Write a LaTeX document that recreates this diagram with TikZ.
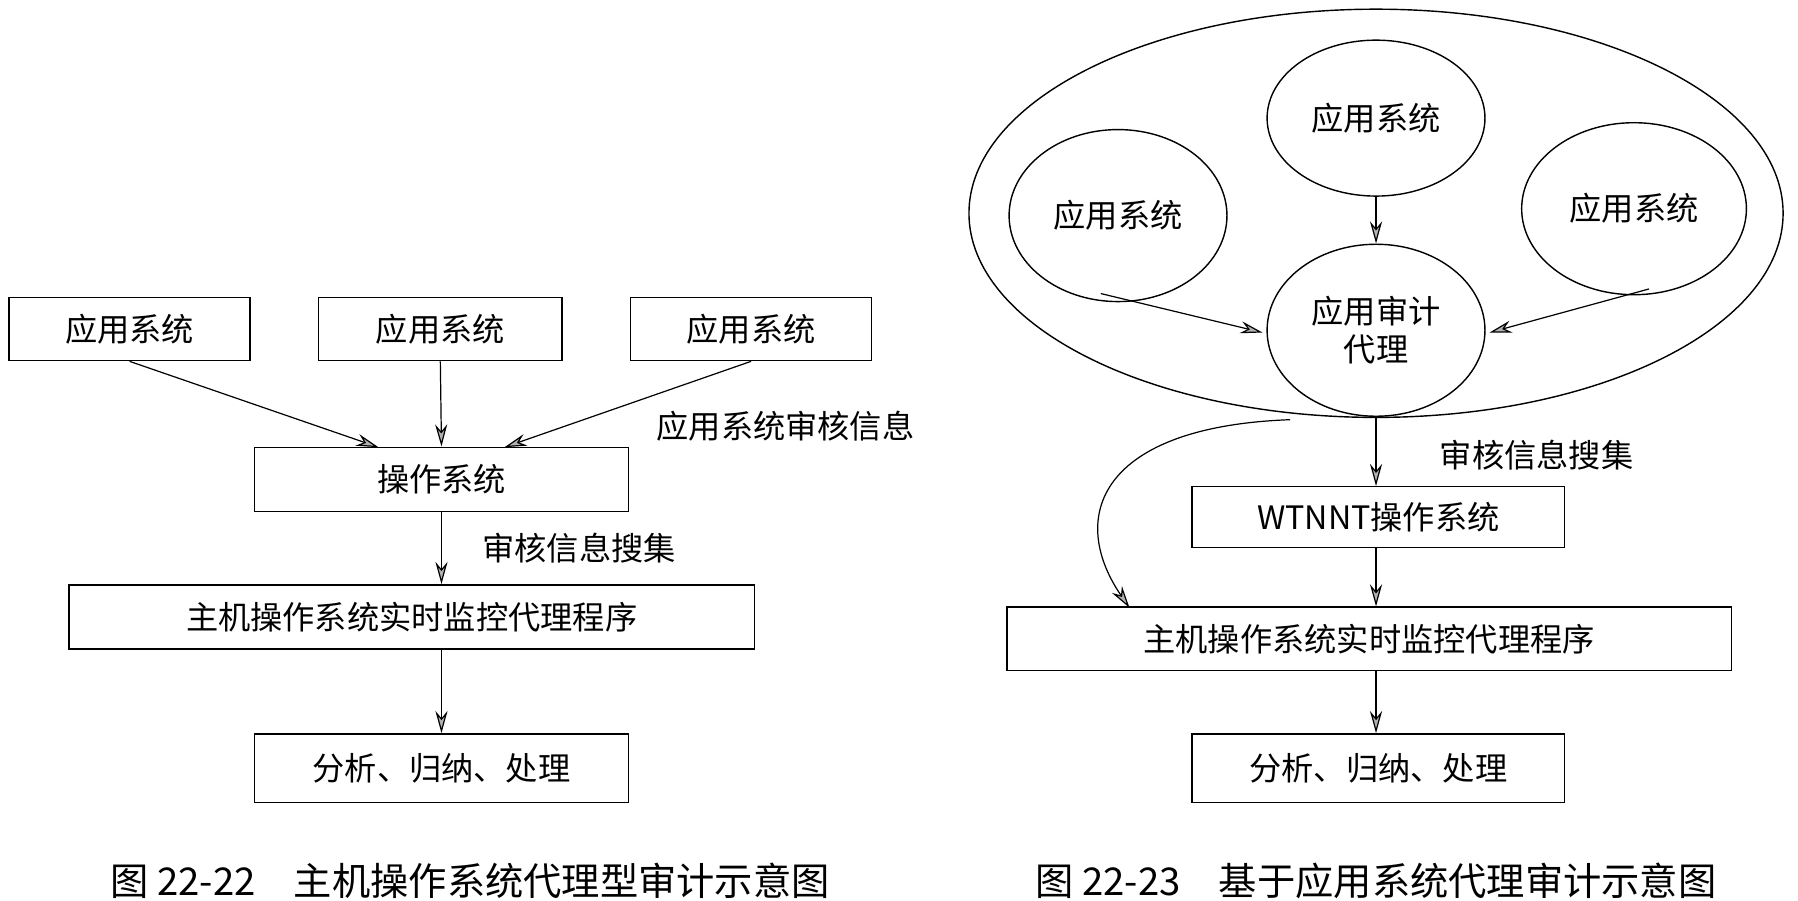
\documentclass[tikz,border=0pt]{standalone}
\usepackage{fontspec}
\newfontfamily\cjk{Noto Sans CJK SC}
\setmainfont{Liberation Serif}
\usetikzlibrary{arrows.meta,shapes.geometric}
\begin{document}
\begin{tikzpicture}[x=0.02cm,y=-0.02cm,
  box/.style={draw,line width=0.7pt,inner sep=0pt},
  ell/.style={draw,line width=0.7pt,ellipse,inner sep=0pt},
  txt/.style={font=\fontsize{16}{19}\selectfont\cjk,align=center},
  captxt/.style={font=\fontsize{19}{22}\selectfont\cjk},
  arr/.style={line width=0.6pt,-{Stealth[length=11pt,width=6pt,fill=gray!60]}}]
\useasboundingbox (0,0) rectangle (1568,785);
% left
\node[box,minimum width=210*0.02cm,minimum height=55*0.02cm,txt] (a1) at (113,287) {应用系统};
\node[box,minimum width=212*0.02cm,minimum height=55*0.02cm,txt] (a2) at (384,287) {应用系统};
\node[box,minimum width=210*0.02cm,minimum height=55*0.02cm,txt] (a3) at (655,287) {应用系统};
\node[box,minimum width=326*0.02cm,minimum height=56*0.02cm,txt] (os) at (385,418) {操作系统};
\node[txt] (l1) at (685,372) {应用系统审核信息};
\node[txt] (l2) at (505,478) {审核信息搜集};
\node[box,minimum width=598*0.02cm,minimum height=56*0.02cm,txt] (hm) at (359,538) {主机操作系统实时监控代理程序};
\node[box,minimum width=326*0.02cm,minimum height=60*0.02cm,txt] (an) at (385,670) {分析、归纳、处理};
\node[captxt] (c1) at (410,768) {图 22-22\quad 主机操作系统代理型审计示意图};
\coordinate (os1) at (330,390); \coordinate (os3) at (440,390);
\draw[arr] (a1.south) -- (os1);
\draw[arr] (a2.south) -- (os.north);
\draw[arr] (a3.south) -- (os3);
\draw[arr] (os.south) -- (os.south|-hm.north);
\draw[arr] (hm.south-|an.north) -- (an.north);
% right
\draw[line width=0.7pt] (1200,186) ellipse (355*0.02cm and 178*0.02cm);
\node[ell,minimum width=190*0.02cm,minimum height=136*0.02cm,txt] (t) at (1200,103) {应用系统};
\node[ell,minimum width=190*0.02cm,minimum height=150*0.02cm,txt] (l) at (975,188) {应用系统};
\node[ell,minimum width=196*0.02cm,minimum height=150*0.02cm,txt] (r) at (1425,182) {应用系统};
\node[ell,minimum width=190*0.02cm,minimum height=150*0.02cm,txt] (c) at (1200,288) {应用审计\\代理};
\draw[arr] (t) -- (c);
\coordinate (cl) at (1101,290); \coordinate (cr) at (1299,290);
\coordinate (ls) at (960,256); \coordinate (rs) at (1438,252);
\draw[arr] (ls) -- (cl);
\draw[arr] (rs) -- (cr);
\node[box,minimum width=325*0.02cm,minimum height=53*0.02cm,txt] (w) at (1202,451) {WTNNT操作系统};
\node[txt] (l3) at (1340,397) {审核信息搜集};
\coordinate (eb) at (1200,364);
\draw[arr] (eb) -- (w.north-|eb);
\node[box,minimum width=632*0.02cm,minimum height=55*0.02cm,txt] (hm2) at (1194,557) {主机操作系统实时监控代理程序};
\draw[arr] (w.south-|eb) -- (hm2.north-|eb);
\node[box,minimum width=325*0.02cm,minimum height=60*0.02cm,txt] (an2) at (1202,670) {分析、归纳、处理};
\draw[arr] (hm2.south-|eb) -- (an2.north-|eb);
\coordinate (cs) at (1125,366); \coordinate (ce) at (985,530);
\draw[arr] (cs) .. controls (960,372) and (930,450) .. (ce);
\node[captxt] (c2) at (1200,768) {图 22-23\quad 基于应用系统代理审计示意图};
\end{tikzpicture}
\end{document}
